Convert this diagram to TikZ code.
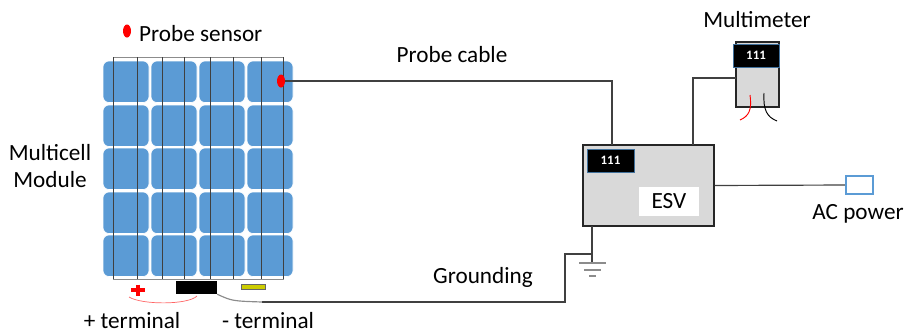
\documentclass[tikz,border=0pt]{standalone}
\usepackage{fontspec}
\setmainfont{Carlito}
\usepackage{xcolor}
\usepackage{tikz}
\usetikzlibrary{shapes.geometric, positioning}

\definecolor{cellblue}{RGB}{91,155,213}
\definecolor{boxgrey}{RGB}{217,217,217}
\definecolor{minusyellow}{RGB}{204,204,0}
\definecolor{screenedge}{RGB}{65,113,156}
\definecolor{wiregrey}{RGB}{64,64,64}

\newdimen\pxu \pxu=0.03cm
\tikzstyle{txt} = [font=\fontsize{19.8}{23}\selectfont, inner sep=0pt]
\tikzstyle{wire} = [draw=wiregrey, line width=1pt]
\tikzstyle{cell} = [fill=cellblue, draw=white, line width=0.6pt, rounded corners=5pt]
\tikzstyle{screen} = [fill=black, draw=screenedge, line width=0.6pt, text=white, font=\bfseries\fontsize{11}{12}\selectfont, inner sep=0pt]
\tikzstyle{unit} = [fill=boxgrey, draw=black!85, line width=1pt, inner sep=0pt]

\begin{document}
\begin{tikzpicture}[x=0.03cm, y=-0.03cm]
    \useasboundingbox (0,0) rectangle (907,333);

    % Panel frame and the 4x5 cells
    \draw[black!45, fill=white, line width=0.8pt] (113,57) rectangle (283,279);
    \foreach \cx in {103,151,199,247} {
        \foreach \cy in {61,105,148,192,235} {
            \draw[cell] (\cx,\cy) rectangle ++(46,41.5);
        }
    }
    % Bus bars over the cells
    \foreach \bx in {113,137,162,184,210,233,261,283}
        \draw[black!75, line width=0.6pt] (\bx,57) -- (\bx,279);

    % Terminals under the panel
    \node[fill=black, inner sep=0pt, minimum width=41\pxu, minimum height=13\pxu] (junction) at (196.5,287.5) {};
    \draw[red, line width=2.8pt] (131,290) -- (145,290);
    \draw[red, line width=2.8pt] (138,284.5) -- (138,295.5);
    \node[fill=minusyellow, draw=black!60, line width=0.5pt, inner sep=0pt, minimum width=24\pxu, minimum height=4.5\pxu] (minus) at (253,287) {};
    \draw[red!60, line width=0.6pt] (129,297) .. controls (142,305) and (188,305) .. (197,296);

    % Probe sensor
    \node[ellipse, fill=red, inner sep=0pt, minimum width=8\pxu, minimum height=13\pxu] (sensor) at (281,81) {};
    \node[ellipse, fill=red, inner sep=0pt, minimum width=8\pxu, minimum height=13\pxu] (legenddot) at (127,31) {};
    \node[txt, anchor=west] (sensorlbl) at (139,34) {Probe sensor};

    % ESV unit
    \node[unit, minimum width=131\pxu, minimum height=81\pxu] (esv) at (648.5,185.5) {};
    \node[screen, minimum width=47\pxu, minimum height=23\pxu] (esvscreen) at (610.5,160.5) {111};
    \node[txt, fill=white, minimum width=60\pxu, minimum height=29\pxu] (esvlbl) at (669,201.5) {ESV};

    % Multimeter
    \node[unit, minimum width=43\pxu, minimum height=65\pxu] (meter) at (757.5,74.5) {};
    \node[screen, minimum width=46\pxu, minimum height=23\pxu] (meterscreen) at (756,55.5) {111};
    \draw[red, line width=0.8pt] (750,95) .. controls (752,110) and (749,116) .. (740,120);
    \draw[black, line width=0.8pt] (764,93) .. controls (763,110) and (767,117) .. (777,121);
    \node[txt] (meterlbl) at (757,20) {Multimeter};

    % AC power socket
    \node[fill=white, draw=cellblue, line width=2pt, inner sep=0pt, minimum width=27\pxu, minimum height=18\pxu] (ac) at (859.5,185) {};
    \node[txt] (aclbl) at (858,214) {AC power};

    % Connection points
    \coordinate (cablein) at (612,145);
    \coordinate (meterout) at (693,145);
    \coordinate (meterin) at (736,78);
    \coordinate (gndtap) at (592,226);
    \coordinate (gndjoin) at (592,254);
    \coordinate (gndbend) at (565,302);
    \coordinate (cableend) at (262,302);

    % Wiring
    \draw[wire] (sensor.east) -| (cablein);
    \draw[wire] (meterout) |- (meterin);
    \draw[wire] (esv.east) -- (ac.west);
    \draw[wire] (gndtap) -- (592,263);
    \draw[wire] (gndjoin) -| (gndbend) -- (cableend);
    \draw[black!45, line width=1pt] (junction.south east) .. controls (232,301) .. (cableend);

    % Earth symbol
    \draw[black!45, line width=1pt] (579,263) -- (606,263);
    \draw[black!45, line width=1pt] (584,270) -- (601,270);
    \draw[black!45, line width=1pt] (589,276) -- (596,276);

    % Labels
    \node[txt] (cablelbl) at (452,55) {Probe cable};
    \node[txt] (gndlbl) at (483,277) {Grounding};
    \node[txt, align=center] (modlbl) at (50,166) {Multicell\\Module};
    \node[txt] (pluslbl) at (132,321) {+ terminal};
    \node[txt] (minuslbl) at (268,321) {- terminal};
\end{tikzpicture}
\end{document}
